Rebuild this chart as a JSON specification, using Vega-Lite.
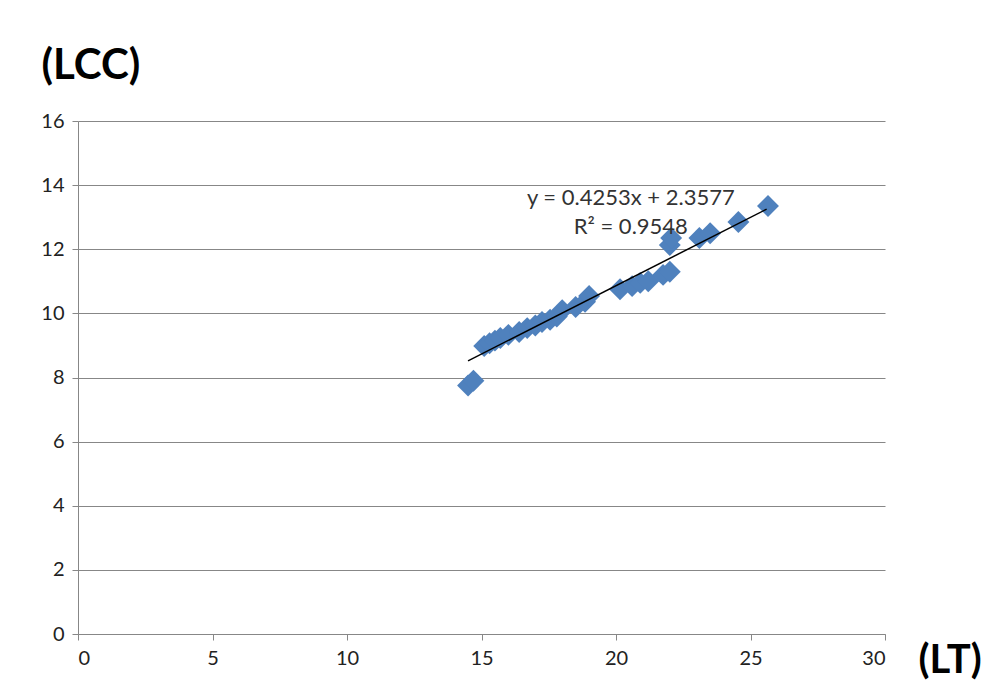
{
  "$schema": "https://vega.github.io/schema/vega-lite/v6.json",
  "width": 807,
  "height": 513,
  "autosize": {"type": "none"},
  "padding": {"left": 78, "top": 121, "right": 114, "bottom": 62},
  "background": "white",
  "config": {
    "view": {"stroke": null},
    "font": "Lato"
  },
  "layer": [
    {
      "data": {"values": [
        {"LT": 14.5, "LCC": 7.75},
        {"LT": 14.7, "LCC": 7.9},
        {"LT": 15.1, "LCC": 8.98},
        {"LT": 15.3, "LCC": 9.07},
        {"LT": 15.5, "LCC": 9.15},
        {"LT": 15.7, "LCC": 9.23},
        {"LT": 16.0, "LCC": 9.33},
        {"LT": 16.4, "LCC": 9.42},
        {"LT": 16.7, "LCC": 9.54},
        {"LT": 17.0, "LCC": 9.62},
        {"LT": 17.25, "LCC": 9.73},
        {"LT": 17.55, "LCC": 9.8},
        {"LT": 17.8, "LCC": 9.9},
        {"LT": 18.0, "LCC": 10.1},
        {"LT": 18.5, "LCC": 10.2},
        {"LT": 18.85, "LCC": 10.36},
        {"LT": 19.0, "LCC": 10.54},
        {"LT": 20.15, "LCC": 10.75},
        {"LT": 20.6, "LCC": 10.85},
        {"LT": 20.9, "LCC": 10.95},
        {"LT": 21.2, "LCC": 11.0},
        {"LT": 21.75, "LCC": 11.2},
        {"LT": 22.0, "LCC": 11.3},
        {"LT": 22.0, "LCC": 12.13},
        {"LT": 22.05, "LCC": 12.35},
        {"LT": 23.1, "LCC": 12.35},
        {"LT": 23.5, "LCC": 12.5},
        {"LT": 24.55, "LCC": 12.85},
        {"LT": 25.65, "LCC": 13.35}
      ]},
      "mark": {"type": "point", "shape": "diamond", "filled": true, "color": "#4F81BD", "opacity": 1, "size": 480},
      "encoding": {
        "x": {
          "field": "LT", "type": "quantitative",
          "scale": {"domain": [0, 30], "nice": false},
          "axis": {
            "values": [0, 5, 10, 15, 20, 25, 30],
            "grid": false,
            "domainColor": "#878787", "tickColor": "#878787", "tickSize": 6,
            "labelFontSize": 20, "labelColor": "#222", "labelPadding": 8,
            "title": "(LT)", "titleFontSize": 40, "titleFontWeight": "bold",
            "titleAnchor": "start", "titleAlign": "left", "titleBaseline": "middle",
            "titleX": 840, "titleY": 26, "titleColor": "#000"
          }
        },
        "y": {
          "field": "LCC", "type": "quantitative",
          "scale": {"domain": [0, 16], "nice": false},
          "axis": {
            "values": [0, 2, 4, 6, 8, 10, 12, 14, 16],
            "grid": true, "gridColor": "#878787", "gridWidth": 1,
            "domainColor": "#878787", "tickColor": "#878787", "tickSize": 6,
            "labelFontSize": 20, "labelColor": "#222", "labelPadding": 8,
            "title": "(LCC)", "titleFontSize": 42, "titleFontWeight": "bold",
            "titleAngle": 0, "titleAlign": "left", "titleBaseline": "middle",
            "titleX": -37, "titleY": -56, "titleColor": "#000"
          }
        }
      }
    },
    {
      "data": {"values": [
        {"LT": 14.5, "LCC": 8.52},
        {"LT": 25.6, "LCC": 13.25}
      ]},
      "mark": {"type": "line", "color": "#000", "strokeWidth": 1.5},
      "encoding": {
        "x": {"field": "LT", "type": "quantitative"},
        "y": {"field": "LCC", "type": "quantitative"}
      }
    },
    {
      "data": {"values": [
        {"LT": 20.55, "LCC": 13.6, "label": "y = 0.4253x + 2.3577"},
        {"LT": 20.55, "LCC": 12.7, "label": "R² = 0.9548"}
      ]},
      "mark": {"type": "text", "fontSize": 22, "color": "#333", "align": "center", "baseline": "middle"},
      "encoding": {
        "x": {"field": "LT", "type": "quantitative"},
        "y": {"field": "LCC", "type": "quantitative"},
        "text": {"field": "label"}
      }
    }
  ]
}
